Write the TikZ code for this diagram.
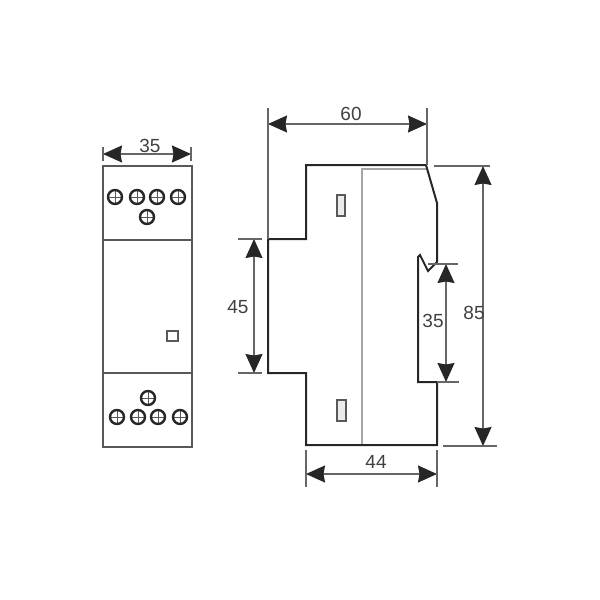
\documentclass[tikz,border=0pt]{standalone}
\usepackage{fontspec}
\setmainfont{Liberation Sans}
\usetikzlibrary{arrows.meta}
\tikzset{
  outline/.style={line width=2pt,draw=black!85,line join=miter},
  thinbox/.style={line width=1.6pt,draw=black!65},
  innerline/.style={line width=1.3pt,draw=black!35},
  extline/.style={line width=1.4pt,draw=black!60},
  dimline/.style={line width=1.4pt,draw=black!60,{Stealth[length=19pt,width=17pt,inset=1.5pt,black!85]}-{Stealth[length=19pt,width=17pt,inset=1.5pt,black!85]}},
  dimtext/.style={font=\fontsize{19}{19}\selectfont,text=black!75,inner sep=0pt},
  screw/.style={circle,draw=black!85,line width=2.4pt,minimum size=14pt,inner sep=0pt,
    path picture={\draw[line width=1pt,black!65] (path picture bounding box.north) -- (path picture bounding box.south)
      (path picture bounding box.west) -- (path picture bounding box.east);}}
}
\begin{document}
\begin{tikzpicture}[x=1pt,y=-1pt]
\useasboundingbox (0,0) rectangle (600,600);

% front view
\draw[thinbox] (103,166) rectangle (192,447);
\draw[thinbox] (103,240) -- (192,240);
\draw[thinbox] (103,373) -- (192,373);
\draw[thinbox] (167,331) rectangle (178,341);

\draw (115,197) node[screw] (top1) {};
\draw (137,197) node[screw] (top2) {};
\draw (157,197) node[screw] (top3) {};
\draw (178,197) node[screw] (top4) {};
\draw (147,217) node[screw] (top5) {};

\draw (148,398) node[screw] (bot5) {};
\draw (117,417) node[screw] (bot1) {};
\draw (138,417) node[screw] (bot2) {};
\draw (158,417) node[screw] (bot3) {};
\draw (180,417) node[screw] (bot4) {};

\coordinate (w35a) at (103,154);
\coordinate (w35b) at (191,154);
\draw[dimline] (w35a) -- (w35b);
\draw[extline] (103,147) -- (103,161);
\draw[extline] (191,147) -- (191,161);
\node[dimtext] (lab35a) at (150,146) {35};

% side view
\draw[innerline] (426,169) -- (362,169) -- (362,445);
\draw[outline] (426,165) -- (306,165) -- (306,239) -- (268,239) -- (268,373) -- (306,373)
  -- (306,445) -- (437,445) -- (437,382) -- (418,382) -- (418,257) -- (420,255)
  -- (428,271) -- (437,262) -- (437,203) -- cycle;
\draw[thinbox,fill=black!8] (337,195) rectangle (345,216);
\draw[thinbox,fill=black!8] (337,400) rectangle (346,421);

% dimensions
\coordinate (w60a) at (268,124);
\coordinate (w60b) at (427,124);
\draw[dimline] (w60a) -- (w60b);
\draw[extline] (268,108) -- (268,239);
\draw[extline] (427,108) -- (427,165);
\node[dimtext] (lab60) at (351,114) {60};

\coordinate (h85a) at (483,166);
\coordinate (h85b) at (483,446);
\draw[dimline] (h85a) -- (h85b);
\draw[extline] (434,166) -- (490,166);
\draw[extline] (443,446) -- (497,446);
\node[dimtext] (lab85) at (474,313) {85};

\coordinate (h35a) at (446,264);
\coordinate (h35b) at (446,382);
\draw[dimline] (h35a) -- (h35b);
\draw[extline] (428,264) -- (458,264);
\draw[extline] (437,382) -- (459,382);
\node[dimtext] (lab35b) at (433,321) {35};

\coordinate (h45a) at (254,239);
\coordinate (h45b) at (254,373);
\draw[dimline] (h45a) -- (h45b);
\draw[extline] (238,239) -- (262,239);
\draw[extline] (238,373) -- (262,373);
\node[dimtext] (lab45) at (238,307) {45};

\coordinate (w44a) at (306,474);
\coordinate (w44b) at (437,474);
\draw[dimline] (w44a) -- (w44b);
\draw[extline] (306,450) -- (306,487);
\draw[extline] (437,450) -- (437,487);
\node[dimtext] (lab44) at (376,462) {44};
\end{tikzpicture}
\end{document}
